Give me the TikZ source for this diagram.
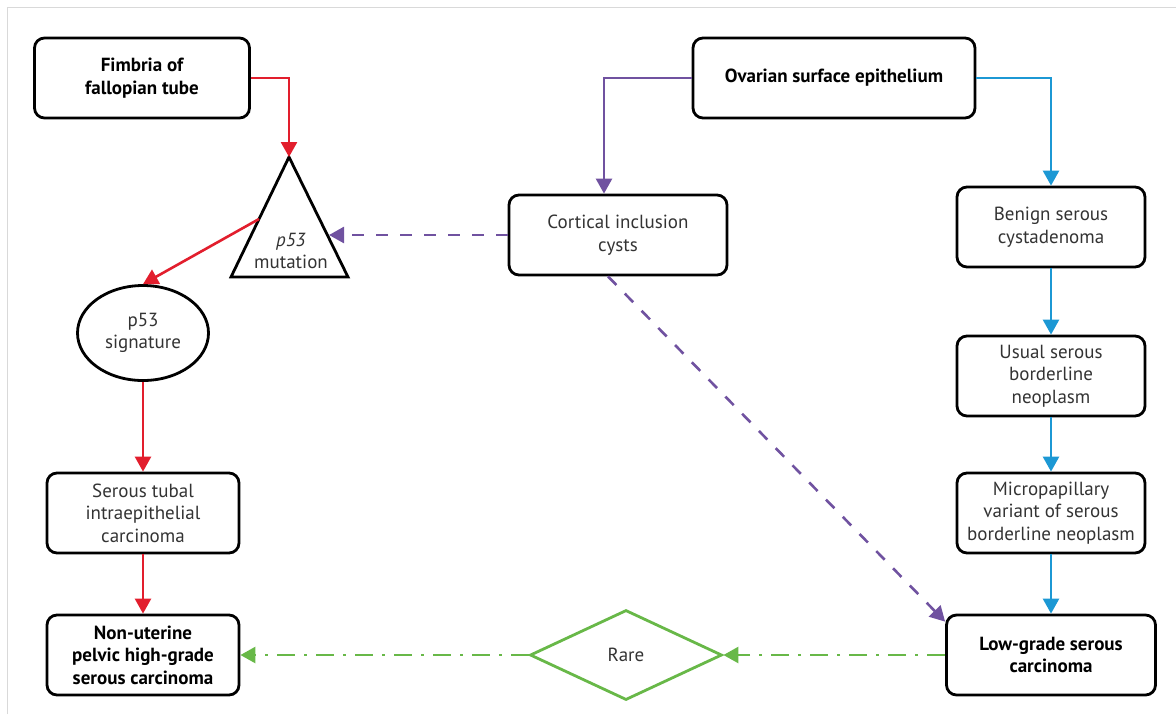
\documentclass[tikz,border=0pt]{standalone}
\usepackage{fontspec}
\setmainfont{PT Sans}
\definecolor{pathred}{RGB}{226,30,45}
\definecolor{pathpurple}{RGB}{112,82,160}
\definecolor{pathblue}{RGB}{28,152,212}
\definecolor{pathgreen}{RGB}{104,184,72}
\definecolor{framegray}{gray}{0.85}
\definecolor{textgray}{gray}{0.2}
\usepackage{tikz}
\usetikzlibrary{arrows.meta, positioning, shapes.geometric}

\begin{document}
\begin{tikzpicture}[x=0.5pt, y=-0.5pt,
	txt/.style={align=center, text=textgray, font=\fontsize{9.5}{11.3}\selectfont, inner sep=1pt},
	box/.style={txt, draw, rounded corners=5pt, line width=1.4pt, minimum height=40pt},
	boldbox/.style={box, text=black, font=\fontsize{9.5}{11.3}\selectfont\bfseries},
	link/.style={line width=1.3pt, -{Triangle[width=8pt, length=7.5pt]}},
	dashlink/.style={link, dash pattern=on 6pt off 6pt},
	dotlink/.style={link, dash pattern=on 9pt off 4.5pt on 1.5pt off 4.5pt}]

% picture is measured in pixels of the reference, y downwards
\useasboundingbox (0,0) rectangle (1176,714);
\draw[framegray, thin] (7,714) -- (7,7) -- (1176,7); % frame

% left column (tube)
\node[boldbox, minimum width=107.5pt] (fimbria) at (142, 78) {Fimbria of\\fallopian tube};
\coordinate (mut top)   at (289,157);
\coordinate (mut left)  at (231,277);
\coordinate (mut right) at (348,277);
\draw[line width=1.4pt, line join=miter] (mut top) -- (mut right) -- (mut left) -- cycle; % triangle
\node[txt] (mut) at (291,251) {\textit{p53}\\mutation};
\coordinate (mut in)  at (329,235); % right edge
\coordinate (mut out) at (259,219); % left edge
\node[txt, draw, ellipse, line width=1.4pt, minimum width=65.5pt, minimum height=47.5pt] (sig) at (143,333) {p53\\signature};
\node[box, minimum width=96pt]   (stic) at (143,513) {Serous tubal\\intraepithelial\\carcinoma};
\node[boldbox, minimum width=96pt] (hgsc) at (143,655) {Non-uterine\\pelvic high-grade\\serous carcinoma};

% middle
\node[boldbox, minimum width=141pt] (ose)  at (834, 78) {Ovarian surface epithelium};
\node[box, minimum width=109pt]     (cic)  at (618,235) {Cortical inclusion\\cysts};
\node[txt, draw=pathgreen, diamond, line width=1.4pt, minimum width=96pt, minimum height=45pt] (rare) at (626,655) {Rare};

% right column (ovary)
\node[box, minimum width=94pt]     (benign) at (1051,227) {Benign serous\\cystadenoma};
\node[box, minimum width=94pt]     (usual)  at (1051,376) {Usual serous\\borderline\\neoplasm};
\node[box, minimum width=94pt]     (micro)  at (1051,513) {Micropapillary\\variant of serous\\borderline neoplasm};
\node[boldbox, minimum width=104.5pt] (lgsc) at (1051,655) {Low-grade serous\\carcinoma};

% red path
\draw[link, pathred] (fimbria.east) -| (mut top);
\draw[link, pathred] (mut out) -- (sig.north);
\draw[link, pathred] (sig) -- (stic);
\draw[link, pathred] (stic) -- (hgsc);

% purple path
\draw[link, pathpurple] (ose.west) -| ([xshift=-7pt]cic.north);
\draw[dashlink, pathpurple] (cic.west) -- (mut in);
\draw[dashlink, pathpurple] ([xshift=-5pt]cic.south) -- ([yshift=-4pt]lgsc.north west);

% blue path
\draw[link, pathblue] (ose.east) -| (benign.north);
\foreach \a/\b in {benign/usual, usual/micro, micro/lgsc} {
	\draw[link, pathblue] (\a) -- (\b);
}

% green path
\draw[dotlink, pathgreen] (lgsc) -- (rare);
\draw[dotlink, pathgreen] (rare) -- (hgsc);

\end{tikzpicture}
\end{document}
